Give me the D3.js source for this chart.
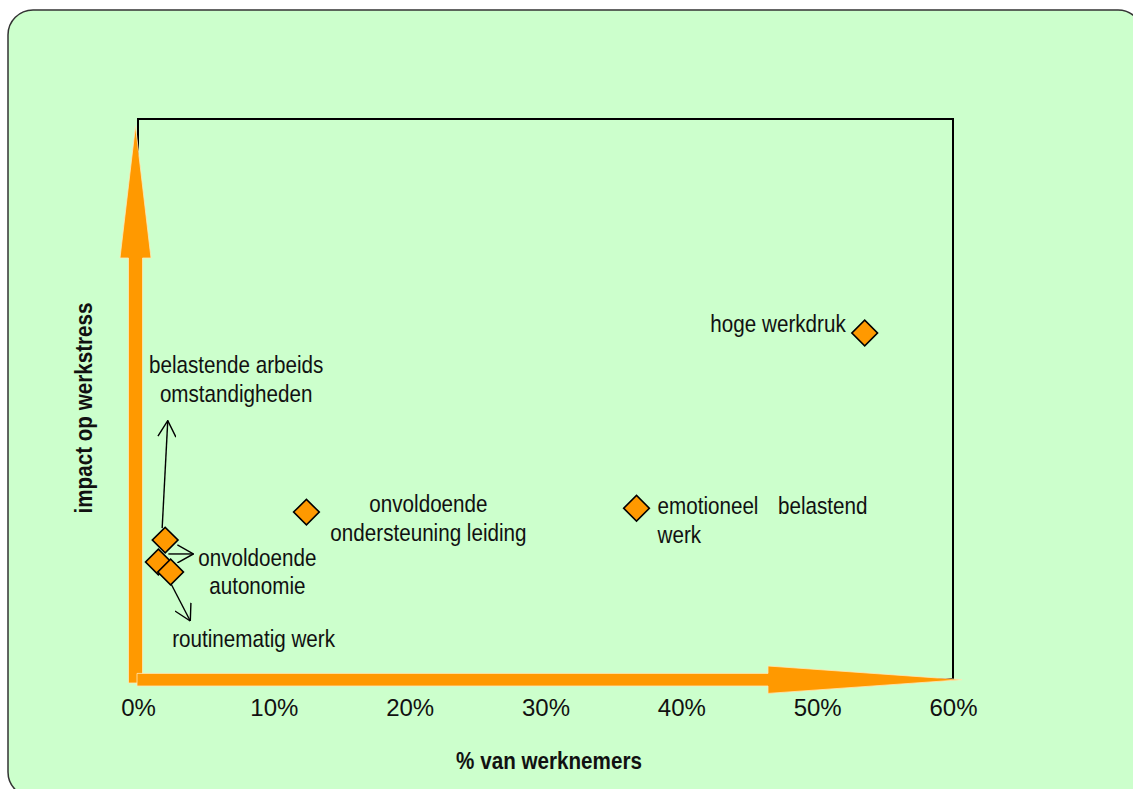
<!DOCTYPE html>
<html>
<head>
<meta charset="utf-8">
<script src="https://cdn.jsdelivr.net/npm/d3@7"></script>
<style>
  html, body { margin: 0; padding: 0; background: #ffffff; }
  svg { display: block; }
  text { font-family: "Liberation Sans", Arial, sans-serif; fill: #111; }
</style>
</head>
<body>
<svg id="chart" width="1133" height="789"></svg>
<script>
// Stress factors: share of employees exposed (%) vs. impact on work stress
const factors = [
  "belastende arbeids omstandigheden",
  "onvoldoende autonomie",
  "routinematig werk",
  "onvoldoende ondersteuning leiding",
  "emotioneel belastend werk",
  "hoge werkdruk"
];
const pctWorkers = [2.0, 1.5, 2.4, 12.4, 36.7, 53.5];
const stressImpact = [24.8, 20.9, 19.1, 29.8, 30.5, 61.8];
const xTicks = [0, 10, 20, 30, 40, 50, 60];
const xTitle = "% van werknemers";
const yTitle = "impact op werkstress";

// Label lines for each factor (as wrapped in the chart)
const labelLines = [
  ["belastende arbeids", "omstandigheden"],
  ["onvoldoende", "autonomie"],
  ["routinematig werk"],
  ["onvoldoende", "ondersteuning leiding"],
  ["emotioneel|belastend", "werk"],
  ["hoge werkdruk"]
];

// Label placement relative to the marker: anchor, dx, dy of first baseline
const labelLayout = [
  { anchor: "middle", dx: 71, dy: -167 },
  { anchor: "middle", dx: 99, dy: 4 },
  { anchor: "middle", dx: 83, dy: 75 },
  { anchor: "middle", dx: 122, dy: 0 },
  { anchor: "start",  dx: 21, dy: 6, justifyTo: 210 },
  { anchor: "end",    dx: -19, dy: -1 }
];

// Leader arrows for the crowded points near the origin: [start offset, end offset]
const leaders = [
  { i: 0, from: [-3, -12], to: [2.6, -119.5] },
  { i: 1, from: [10, -8],  to: [35, -8] },
  { i: 2, from: [0, 11],   to: [19.7, 49] }
];

const W = 1133, H = 789;
const svg = d3.select("#chart");
const ORANGE = "#FF9900";
const LINE_H = 28.5;
const SX = 0.86; // horizontal text compression

const plot = { left: 138, right: 953, top: 119, bottom: 679 };

const x = d3.scaleLinear().domain([0, 60]).range([plot.left, plot.right]);
const y = d3.scaleLinear().domain([0, 100]).range([plot.bottom, plot.top]);

// Card background
svg.append("rect")
  .attr("x", 8).attr("y", 10)
  .attr("width", 1135).attr("height", 787)
  .attr("rx", 25).attr("ry", 25)
  .attr("fill", "#CCFFCC")
  .attr("stroke", "#333").attr("stroke-width", 1.5);

// Plot frame
svg.append("rect")
  .attr("x", plot.left).attr("y", plot.top)
  .attr("width", plot.right - plot.left)
  .attr("height", plot.bottom - plot.top)
  .attr("fill", "none")
  .attr("stroke", "#000").attr("stroke-width", 2);

// Orange axis arrows
const yShaftL = plot.left - 9.5, yShaftR = plot.left + 4.5, yCx = plot.left - 2.5;
const yHeadBase = 258, yTip = 126;
svg.append("path")
  .attr("d", `M${yShaftL},${plot.bottom + 4} L${yShaftL},${yHeadBase} L${yCx - 15.5},${yHeadBase}
              L${yCx},${yTip} L${yCx + 15.5},${yHeadBase} L${yShaftR},${yHeadBase} L${yShaftR},${plot.bottom + 4} Z`)
  .attr("fill", ORANGE).attr("stroke", "#FFE9B8").attr("stroke-width", 0.8);

const xCy = plot.bottom + 0.7;
const xHeadBase = 768, xTip = 962;
svg.append("path")
  .attr("d", `M${plot.left - 1},${xCy - 6.3} L${xHeadBase},${xCy - 6.3} L${xHeadBase},${xCy - 13.7}
              L${xTip},${xCy} L${xHeadBase},${xCy + 13.7} L${xHeadBase},${xCy + 6.3} L${plot.left - 1},${xCy + 6.3} Z`)
  .attr("fill", ORANGE).attr("stroke", "#FFE9B8").attr("stroke-width", 0.8);

// X axis tick labels
const xAxis = d3.axisBottom(x)
  .tickValues(xTicks)
  .tickFormat(d => d + "%")
  .tickSize(0)
  .tickPadding(0);
const gx = svg.append("g")
  .attr("transform", `translate(0,${plot.bottom})`)
  .call(xAxis);
gx.select(".domain").remove();
gx.selectAll("text")
  .attr("dy", null)
  .attr("y", 37)
  .style("font-family", "'Liberation Sans', Arial, sans-serif")
  .style("font-size", "24px")
  .attr("fill", "#111");

// Axis titles (bold, condensed)
svg.append("text")
  .attr("transform", `translate(${(plot.left + plot.right) / 2 + 3.5},769) scale(${SX},1)`)
  .attr("text-anchor", "middle")
  .style("font-size", "24px").style("font-weight", "bold")
  .text(xTitle);

svg.append("text")
  .attr("transform", `translate(92,408) rotate(-90) scale(${SX},1)`)
  .attr("text-anchor", "middle")
  .style("font-size", "24px").style("font-weight", "bold")
  .text(yTitle);

// Arrowhead marker for leader lines
svg.append("defs").append("marker")
  .attr("id", "openArrow")
  .attr("viewBox", "0 0 17 19")
  .attr("refX", 16.5).attr("refY", 9.5)
  .attr("markerWidth", 17).attr("markerHeight", 19)
  .attr("markerUnits", "userSpaceOnUse")
  .attr("orient", "auto")
  .append("path")
  .attr("d", "M0.5,0.5 L16.5,9.5 L0.5,18.5")
  .attr("fill", "none").attr("stroke", "#000").attr("stroke-width", 1.4);

svg.append("g").selectAll("line")
  .data(leaders)
  .join("line")
  .attr("x1", d => x(pctWorkers[d.i]) + d.from[0])
  .attr("y1", d => y(stressImpact[d.i]) + d.from[1])
  .attr("x2", d => x(pctWorkers[d.i]) + d.to[0])
  .attr("y2", d => y(stressImpact[d.i]) + d.to[1])
  .attr("stroke", "#000").attr("stroke-width", 1.4)
  .attr("marker-end", "url(#openArrow)");

// Diamond markers
const diamond = d3.symbol().type(d3.symbolSquare).size(330);
svg.append("g").selectAll("path")
  .data(factors)
  .join("path")
  .attr("d", diamond)
  .attr("transform", (d, i) => `translate(${x(pctWorkers[i])},${y(stressImpact[i])}) rotate(45)`)
  .attr("fill", ORANGE)
  .attr("stroke", "#000").attr("stroke-width", 1.6);

// Point labels
factors.forEach((name, i) => {
  const L = labelLayout[i];
  const px = x(pctWorkers[i]) + L.dx;
  const py = y(stressImpact[i]) + L.dy;
  labelLines[i].forEach((line, k) => {
    const parts = line.split("|");
    const t = svg.append("text")
      .attr("transform", `translate(${px},${py + k * LINE_H}) scale(${SX},1)`)
      .attr("text-anchor", parts.length > 1 ? "start" : L.anchor)
      .style("font-size", "24px");
    if (parts.length > 1) {
      t.append("tspan").attr("x", 0).text(parts[0]);
      t.append("tspan").attr("x", L.justifyTo / SX).attr("text-anchor", "end").text(parts[1]);
    } else {
      t.text(line);
    }
  });
});
</script>
</body>
</html>
